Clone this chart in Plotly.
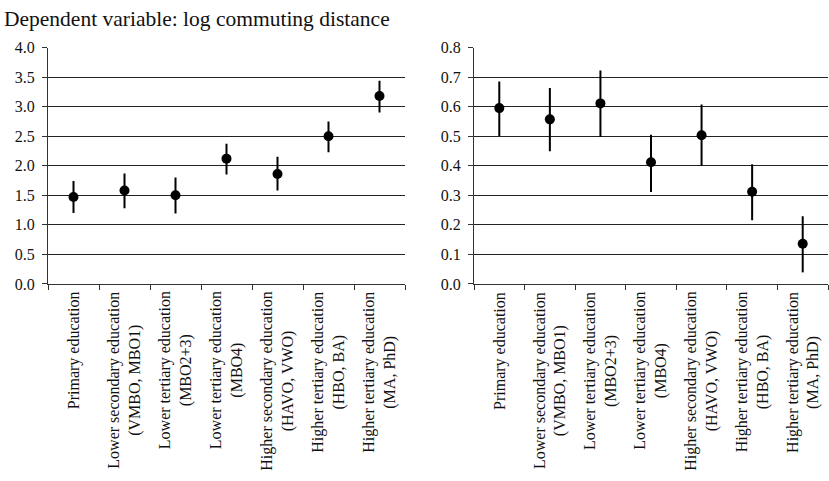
import plotly.graph_objects as go

categories = [
    "Primary education",
    "Lower secondary education<br>(VMBO, MBO1)",
    "Lower tertiary education<br>(MBO2+3)",
    "Lower tertiary education<br>(MBO4)",
    "Higher secondary education<br>(HAVO, VWO)",
    "Higher tertiary education<br>(HBO, BA)",
    "Higher tertiary education<br>(MA, PhD)",
]

left_est = [1.47, 1.58, 1.50, 2.12, 1.86, 2.50, 3.18]
left_low = [1.20, 1.28, 1.19, 1.85, 1.58, 2.23, 2.90]
left_high = [1.74, 1.87, 1.80, 2.37, 2.15, 2.75, 3.44]

right_est = [0.595, 0.557, 0.611, 0.412, 0.503, 0.312, 0.136]
right_low = [0.501, 0.449, 0.497, 0.311, 0.400, 0.215, 0.039]
right_high = [0.685, 0.663, 0.722, 0.505, 0.607, 0.405, 0.229]

left_yticks = [0.0, 0.5, 1.0, 1.5, 2.0, 2.5, 3.0, 3.5, 4.0]
right_yticks = [0.0, 0.1, 0.2, 0.3, 0.4, 0.5, 0.6, 0.7, 0.8]

title_text = "Dependent variable: log commuting distance"

W, H = 829, 481
FONT = "Liberation Serif"

def px_x(p):
    return p / W

def px_y(p):
    return 1 - p / H

xpos = list(range(len(categories)))

fig = go.Figure()

for est, low, high, xa, ya in [
    (left_est, left_low, left_high, "x", "y"),
    (right_est, right_low, right_high, "x2", "y2"),
]:
    fig.add_trace(go.Scatter(
        x=xpos, y=est, mode="markers",
        marker=dict(color="black", size=10),
        error_y=dict(type="data", symmetric=False,
                     array=[h - e for h, e in zip(high, est)],
                     arrayminus=[e - l for e, l in zip(est, low)],
                     color="black", thickness=2, width=0),
        xaxis=xa, yaxis=ya, showlegend=False, hoverinfo="skip",
    ))

bound_ticks = [i - 0.5 for i in range(len(categories) + 1)]

common_x = dict(
    range=[-0.5, len(categories) - 0.5], tickmode="array", tickvals=bound_ticks,
    ticktext=[""] * len(bound_ticks), ticks="outside", ticklen=5, tickwidth=1,
    tickcolor="#333", showline=True, linecolor="#333", linewidth=1,
    showgrid=False, zeroline=False, fixedrange=True,
)
common_y = dict(
    ticks="outside", ticklen=5, tickwidth=1, tickcolor="#333",
    showline=True, linecolor="#333", linewidth=1,
    showgrid=True, gridcolor="#222", gridwidth=1, zeroline=False,
    tickfont=dict(family=FONT, size=16, color="#111"), tickformat=".1f",
    ticklabelstandoff=4, fixedrange=True,
)

ybot, ytop = px_y(286), px_y(41)

fig.update_layout(
    width=W, height=H, margin=dict(l=0, r=0, t=0, b=0),
    paper_bgcolor="white", plot_bgcolor="white",
    font=dict(family=FONT, color="#111"),
    xaxis=dict(domain=[px_x(48), px_x(405)], anchor="y", **common_x),
    yaxis=dict(domain=[ybot, ytop], anchor="x", range=[0, 4.0],
               tickmode="array", tickvals=left_yticks, **common_y),
    xaxis2=dict(domain=[px_x(474), px_x(828)], anchor="y2", **common_x),
    yaxis2=dict(domain=[ybot, ytop], anchor="x2", range=[0, 0.8],
                tickmode="array", tickvals=right_yticks, **common_y),
)

annotations = [dict(
    text=title_text, x=px_x(2), y=1, xref="paper", yref="paper",
    xanchor="left", yanchor="top", showarrow=False, yshift=3,
    font=dict(family=FONT, size=21.5, color="#111"),
)]

for xr in ["x", "x2"]:
    for i, lab in enumerate(categories):
        annotations.append(dict(
            text=lab, x=i, y=px_y(292), xref=xr, yref="paper",
            xanchor="center", yanchor="top", textangle=-90, align="center",
            showarrow=False, font=dict(family=FONT, size=16, color="#111"),
        ))

fig.update_layout(annotations=annotations)

fig.write_html(
    "out.html",
    config={"displayModeBar": False, "staticPlot": True},
    post_script="document.body.style.margin='0';document.body.style.overflow='hidden';",
)
